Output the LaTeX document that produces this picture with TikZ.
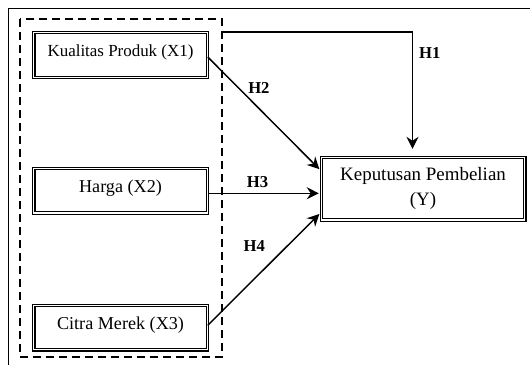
\documentclass[tikz,border=0pt]{standalone}
\usepackage{fontspec}
\setmainfont{Liberation Serif}
\usetikzlibrary{positioning, calc, arrows.meta}

\tikzset{
	varbox/.style={draw, double, double distance=1pt, line width=0.8pt, inner sep=2pt, align=center, font=\fontsize{13.6}{18.75}\selectfont},
	xbox/.style={varbox, minimum width=130.1pt, minimum height=33.4pt, text depth=6pt},
	ybox/.style={varbox, minimum width=152.6pt, minimum height=46.9pt, font=\fontsize{14.2}{18.75}\selectfont},
	hyp/.style={font=\fontsize{12.5}{15}\selectfont\bfseries, inner sep=1pt},
	link/.style={-{Stealth[length=9pt,width=9pt,inset=3pt]}, line width=1.1pt, shorten >=1.5pt}
}

\begin{document}
\begin{tikzpicture}[x=0.75pt, y=-0.75pt, node distance=67.5pt and 84.75pt]
	\useasboundingbox (0,0) rectangle (530,365);
	% frame and group
	\draw[line width=0.6pt] (8,365) -- (8,8) -- (530,8);
	\draw[line width=1.1pt, dash pattern=on 6pt off 3.75pt] (20,19) rectangle (222,357);

	\node[xbox, font=\fontsize{12.7}{18.75}\selectfont] (x1) at (120.5,55) {Kualitas Produk (X1)};
	\node[xbox, below =of x1] (x2) {Harga (X2)};
	\node[xbox, below =68.5pt of x2] (x3) {Citra Merek (X3)};
	\node[ybox, right =of x2, yshift=1.5pt] (y) {Keputusan Pembelian\\(Y)};

	\coordinate (h1start) at (222,32);
	\draw[link, shorten >=6pt] (h1start) -| ([xshift=-7.9pt]y.north)
		node[hyp, pos=0.585, right=3.5pt] (h1) {H1};
	\draw[link] ([yshift=-1.5pt]x1.east) -- ([yshift=13.5pt]y.west)
		node[hyp, pos=0.34, anchor=south west] (h2) {H2};
	\draw[link] ([yshift=-2pt]x2.east) -- ([yshift=-2pt]x2.east -| y.west)
		node[hyp, pos=0.44, above=3pt] (h3) {H3};
	\draw[link] ([yshift=1.7pt]x3.east) -- ([yshift=-18pt]y.west)
		node[hyp, pos=0.58, above left=6.7pt] (h4) {H4};
\end{tikzpicture}
\end{document}
